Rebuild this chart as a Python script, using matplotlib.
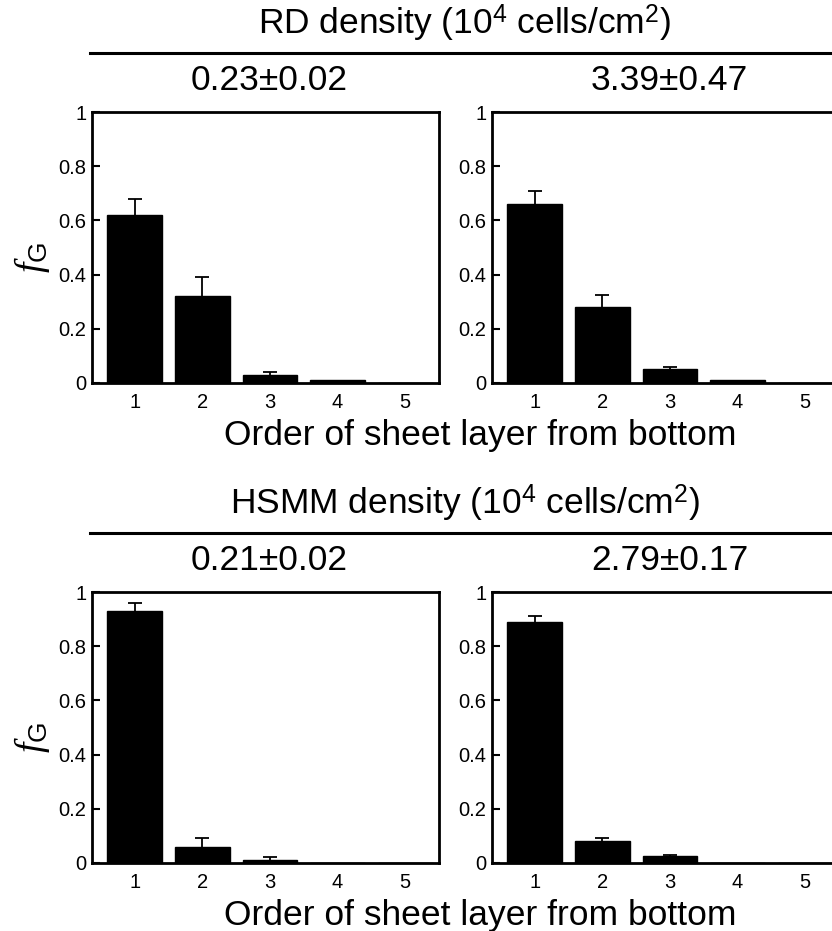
import numpy as np
import matplotlib
matplotlib.use("Agg")
import matplotlib.pyplot as plt
from matplotlib.lines import Line2D

plt.rcParams['font.family'] = ['Liberation Sans', 'DejaVu Sans']
plt.rcParams['mathtext.fontset'] = 'custom'
plt.rcParams['mathtext.rm'] = 'Liberation Sans'
plt.rcParams['mathtext.it'] = 'Liberation Serif:italic'
plt.rcParams['mathtext.bf'] = 'Liberation Sans:bold'

# ---- data ----
layers = [1, 2, 3, 4, 5]
rd_low = [0.62, 0.32, 0.03, 0.01, 0.0]
rd_low_err = [0.06, 0.07, 0.012, 0.0, 0.0]
rd_high = [0.66, 0.28, 0.05, 0.01, 0.0]
rd_high_err = [0.05, 0.045, 0.01, 0.0, 0.0]
hsmm_low = [0.93, 0.06, 0.011, 0.0, 0.0]
hsmm_low_err = [0.03, 0.032, 0.012, 0.0, 0.0]
hsmm_high = [0.89, 0.08, 0.025, 0.0, 0.0]
hsmm_high_err = [0.02, 0.013, 0.005, 0.0, 0.0]

rd_title = "RD density (10$^{4}$ cells/cm$^{2}$)"
hsmm_title = "HSMM density (10$^{4}$ cells/cm$^{2}$)"
rd_sub = ["0.23±0.02", "3.39±0.47"]
hsmm_sub = ["0.21±0.02", "2.79±0.17"]
xlabel = "Order of sheet layer from bottom"
ylabel = r"$f_{\mathrm{G}}$"
yticks = [0, 0.2, 0.4, 0.6, 0.8, 1]
yticklabels = ["0", "0.2", "0.4", "0.6", "0.8", "1"]

W, H = 832, 931
fig = plt.figure(figsize=(W / 100, H / 100), dpi=100)

def fx(px):
    return px / W

def fy(py):
    return 1 - py / H

ax_w = 347 / W
ax_h = 271 / H
lefts = [92, 492]
tops = [112, 592]

rows = [
    (rd_title, rd_sub, [(rd_low, rd_low_err), (rd_high, rd_high_err)]),
    (hsmm_title, hsmm_sub, [(hsmm_low, hsmm_low_err), (hsmm_high, hsmm_high_err)]),
]

big = 25.5
for r, (title, subs, series) in enumerate(rows):
    top = tops[r]
    for c, (vals, errs) in enumerate(series):
        left = lefts[c]
        ax = fig.add_axes([fx(left), fy(top + 271), ax_w, ax_h])
        vals = np.array(vals)
        errs = np.array(errs)
        x = np.array(layers)
        ax.bar(x, vals, width=0.81, color='black', edgecolor='black', zorder=2)
        m = errs > 0
        _, caplines, _ = ax.errorbar(x[m], vals[m], yerr=[np.zeros(m.sum()), errs[m]],
                                     fmt='none', ecolor='black', elinewidth=1.3,
                                     capsize=5, capthick=1.3, zorder=1)
        for cl in caplines:
            if np.allclose(cl.get_ydata(), vals[m]):
                cl.set_visible(False)
        ax.set_xlim(0.37, 5.5)
        ax.set_ylim(0, 1)
        ax.set_xticks(layers)
        ax.set_xticklabels([str(v) for v in layers])
        ax.set_yticks(yticks)
        ax.set_yticklabels(yticklabels)
        ax.tick_params(axis='y', direction='in', length=6, width=1.5, labelsize=14.5, pad=4)
        ax.tick_params(axis='x', length=0, labelsize=14.5, pad=7)
        for sp in ax.spines.values():
            sp.set_linewidth(2.0)
        # subtitle
        fig.text(fx(left + 347 / 2 + 4), fy(top - 22), subs[c], ha='center', va='baseline',
                 fontsize=big)
        if c == 0:
            fig.text(fx(32), fy(top + 146), ylabel, rotation=90, ha='center', va='center',
                     fontsize=27)
    # group title and line
    fig.text(fx(465), fy(top - 77), title, ha='center', va='baseline', fontsize=big)
    fig.add_artist(Line2D([fx(90), 1.0], [fy(top - 59), fy(top - 59)],
                          transform=fig.transFigure, color='black', lw=2.2))
    fig.text(fx(480), fy(top + 271 + 62), xlabel, ha='center', va='baseline', fontsize=big)

fig.savefig("out.png", dpi=100)
